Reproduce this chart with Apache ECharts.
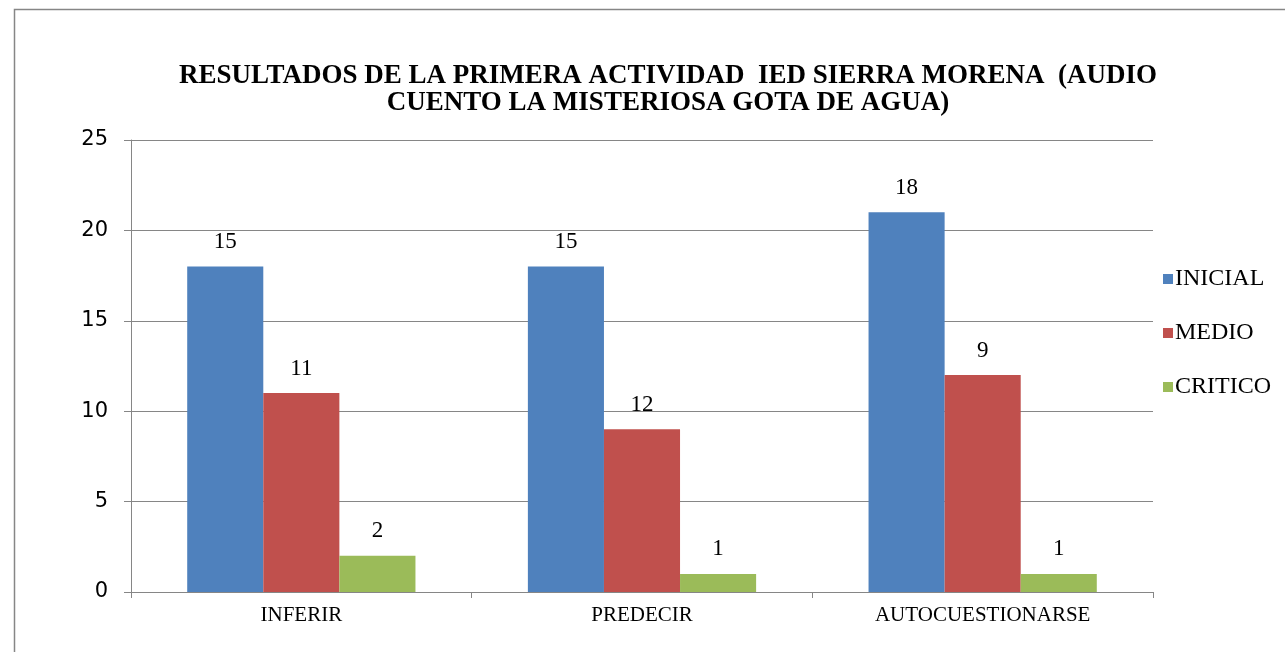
<!DOCTYPE html>
<html>
<head>
<meta charset="utf-8">
<script src="https://cdn.jsdelivr.net/npm/echarts@6/dist/echarts.min.js"></script>
<style>html,body{margin:0;padding:0;background:#fff}#c{width:1285px;height:652px}</style>
</head>
<body>
<div id="c"></div>
<script>
const titleText = 'RESULTADOS DE LA PRIMERA ACTIVIDAD  IED SIERRA MORENA  (AUDIO\nCUENTO LA MISTERIOSA GOTA DE AGUA)';
const categories = ['INFERIR', 'PREDECIR', 'AUTOCUESTIONARSE'];
const seriesNames = ['INICIAL', 'MEDIO', 'CRITICO'];
// bar heights as drawn
const inicialValues = [18, 18, 21];
const medioValues = [11, 9, 12];
const criticoValues = [2, 1, 1];
// label texts as printed above bars
const inicialLabels = ['15', '15', '18'];
const medioLabels = ['11', '12', '9'];
const criticoLabels = ['2', '1', '1'];
const yTicks = [0, 5, 10, 15, 20, 25];

const colors = ['#4F81BD', '#C0504D', '#9BBB59'];
const serif = '"Liberation Serif", "Times New Roman", serif';
const valuesList = [inicialValues, medioValues, criticoValues];
const labelsList = [inicialLabels, medioLabels, criticoLabels];

const chart = echarts.init(document.getElementById('c'));
chart.setOption({
  animation: false,
  backgroundColor: '#fff',
  graphic: [{
    type: 'rect', left: 12, top: 7, silent: true,
    shape: { width: 1400, height: 800 },
    style: { fill: 'none', stroke: '#868686', lineWidth: 1.5 }
  }],
  title: {
    text: titleText, left: 663, top: 58, textAlign: 'center',
    textStyle: { fontFamily: serif, fontWeight: 'bold', fontSize: 27, lineHeight: 27, color: '#000' }
  },
  legend: {
    orient: 'vertical', left: 1158, top: 262, itemGap: 30,
    itemWidth: 10, itemHeight: 10, icon: 'rect',
    data: seriesNames,
    textStyle: { fontFamily: serif, fontSize: 24, color: '#000', padding: [0, 0, 0, -3] }
  },
  grid: { left: 131, right: 132, top: 140, bottom: 60, containLabel: false },
  xAxis: {
    type: 'category', data: categories,
    axisLine: { lineStyle: { color: '#868686', width: 1 } },
    axisTick: { show: true, length: 6, lineStyle: { color: '#868686' } },
    axisLabel: { fontFamily: serif, fontSize: 21, color: '#000', margin: 13 }
  },
  yAxis: {
    type: 'value', min: yTicks[0], max: yTicks[yTicks.length - 1], interval: 5,
    axisLine: { show: true, lineStyle: { color: '#868686', width: 1 } },
    axisTick: { show: true, length: 7, lineStyle: { color: '#868686' } },
    splitLine: { lineStyle: { color: '#868686', width: 1 } },
    axisLabel: { fontFamily: '"DejaVu Sans", sans-serif', fontSize: 21, color: '#000', margin: 23 }
  },
  series: seriesNames.map((n, i) => ({
    name: n, type: 'bar', barGap: '0%', barCategoryGap: '33%',
    data: valuesList[i],
    itemStyle: { color: colors[i] },
    label: {
      show: true, position: 'top', distance: 13,
      formatter: p => labelsList[i][p.dataIndex],
      fontFamily: serif, fontSize: 23, color: '#000'
    }
  }))
});
</script>
</body>
</html>
